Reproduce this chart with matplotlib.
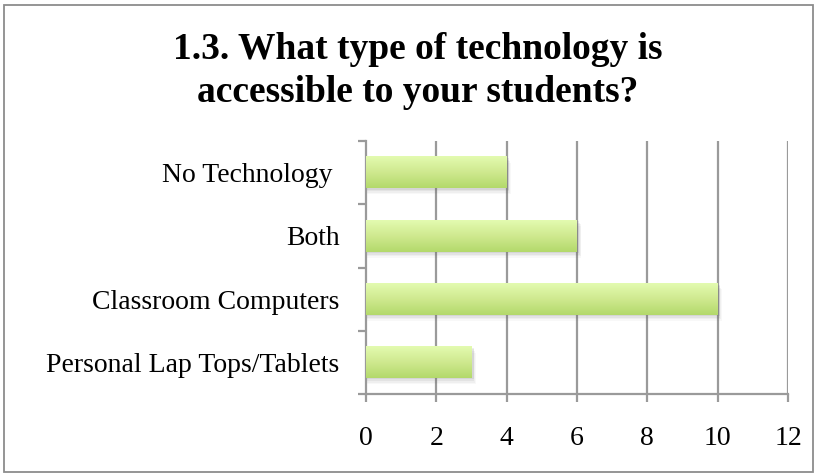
import matplotlib
matplotlib.use("Agg")
import matplotlib.pyplot as plt
import numpy as np
from matplotlib.patches import Rectangle
from matplotlib.colors import LinearSegmentedColormap

categories = ["Personal Lap Tops/Tablets", "Classroom Computers", "Both", "No Technology "]
values = [3, 10, 6, 4]
xticks = [0, 2, 4, 6, 8, 10, 12]
title = "1.3. What type of technology is\naccessible to your students?"

W, H = 818, 476
fig = plt.figure(figsize=(W/100, H/100), dpi=100)
fig.patch.set_facecolor("white")
# outer chart border
fig.add_artist(Rectangle((4/W, 4/H), (W-9)/W, (H-9)/H, transform=fig.transFigure,
                         fill=False, edgecolor="#8c8c8c", linewidth=1.3))

left, right, top, bottom = 366, 788, 141, 394
ax = fig.add_axes([left/W, 1-bottom/H, (right-left)/W, (bottom-top)/H])
ax.set_xlim(0, 12)
ax.set_ylim(-0.5, len(categories)-0.5)

grid_c = "#9a9a9a"
for x in xticks[1:]:
    ax.axvline(x, color=grid_c, linewidth=1.6, zorder=0)

cmap = LinearSegmentedColormap.from_list("g", ["#b3d96b", "#cfe98f", "#e3fbb0"])
grad = np.linspace(0, 1, 100).reshape(-1, 1)
bh = 0.5
for i, v in enumerate(values):
    # soft shadow
    for k, a in enumerate([0.10, 0.08, 0.06, 0.04]):
        d = 0.02 + k*0.025
        ax.add_patch(Rectangle((0.02, i - bh/2 - d), v + 0.04 + k*0.02, bh,
                               facecolor="#606060", alpha=a, edgecolor="none", zorder=2))
    ax.imshow(grad, cmap=cmap, aspect="auto", origin="lower",
              extent=(0, v, i - bh/2, i + bh/2), zorder=3, interpolation="bicubic")
ax.set_xlim(0, 12)
ax.set_ylim(-0.5, len(categories)-0.5)

for s in ["top", "right"]:
    ax.spines[s].set_visible(False)
for s in ["left", "bottom"]:
    ax.spines[s].set_color(grid_c)
    ax.spines[s].set_linewidth(1.6)

ax.set_xticks(xticks)
ax.set_xticklabels([str(x) for x in xticks])
ax.set_yticks(np.arange(-0.5, len(categories), 1), minor=False)
ax.set_yticklabels([])
ax.set_yticks(np.arange(len(categories)), minor=True)
ax.set_yticklabels(categories, minor=True)
ax.tick_params(axis="y", which="major", length=6, width=1.6, color=grid_c, direction="out")
ax.tick_params(axis="y", which="minor", length=0, pad=19)
ax.tick_params(axis="x", which="major", length=6, width=1.6, color=grid_c, direction="out", pad=17)

font = "Liberation Serif"
for lab in ax.get_xticklabels() + ax.get_yticklabels(minor=True):
    lab.set_fontfamily(font)
    lab.set_fontsize(20)
    lab.set_color("black")

fig.text(418/W, 1-71/H, title, ha="center", va="center", fontsize=27,
         fontweight="bold", fontfamily=font, linespacing=1.3)

fig.savefig("out.png", dpi=100, facecolor="white")
